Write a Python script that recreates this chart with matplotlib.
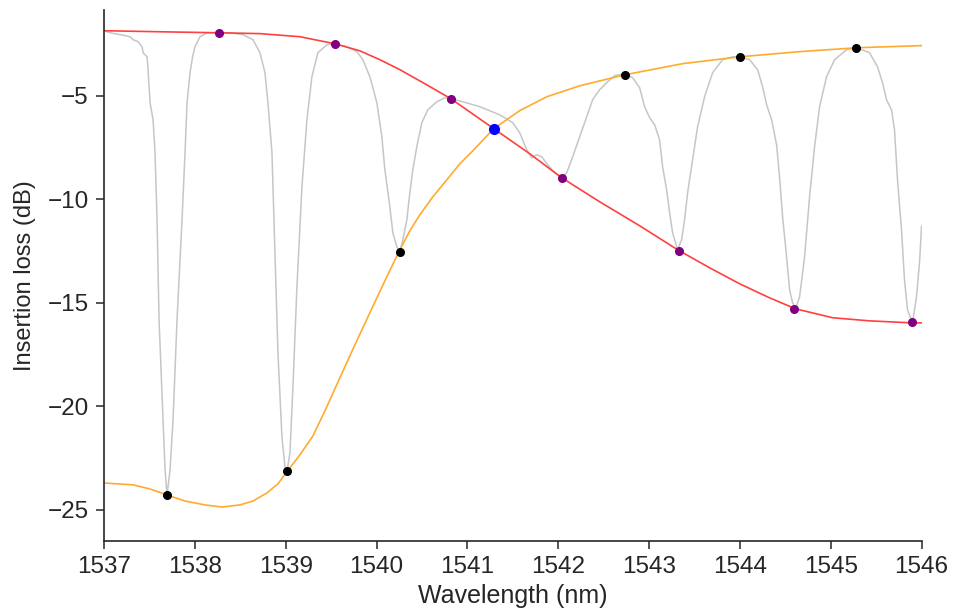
import matplotlib
matplotlib.use('Agg')
import matplotlib.pyplot as plt

# ── Data ──────────────────────────────────────────────────
# measured transmission spectrum (gray)
spec_wl = [
    1537.000, 1537.066, 1537.176, 1537.286, 1537.319, 1537.374, 1537.418, 1537.429,
    1537.473, 1537.484, 1537.506, 1537.539, 1537.561, 1537.583, 1537.605, 1537.649,
    1537.671, 1537.693, 1537.726, 1537.759, 1537.803, 1537.858, 1537.891, 1537.913,
    1537.946, 1537.975, 1538.001, 1538.056, 1538.133, 1538.265, 1538.386, 1538.529, 1538.639,
    1538.716, 1538.771, 1538.804, 1538.848, 1538.881, 1538.914, 1538.958, 1538.991,
    1539.013, 1539.046, 1539.079, 1539.123, 1539.178, 1539.233, 1539.288, 1539.354,
    1539.453, 1539.541, 1539.673, 1539.783, 1539.849, 1539.926, 1540.003, 1540.058,
    1540.091, 1540.146, 1540.179, 1540.223, 1540.256, 1540.289, 1540.333, 1540.366,
    1540.399, 1540.443, 1540.498, 1540.564, 1540.663, 1540.751, 1540.817, 1540.949,
    1541.136, 1541.356, 1541.499, 1541.576, 1541.653, 1541.708, 1541.763, 1541.818,
    1541.884, 1541.961, 1542.038, 1542.093, 1542.159, 1542.236, 1542.313, 1542.379,
    1542.456, 1542.533, 1542.621, 1542.731, 1542.819, 1542.896, 1542.951, 1543.006,
    1543.061, 1543.116, 1543.149, 1543.193, 1543.226, 1543.259, 1543.314, 1543.358,
    1543.391, 1543.424, 1543.479, 1543.534, 1543.611, 1543.699, 1543.809, 1543.919,
    1543.997, 1544.107, 1544.195, 1544.250, 1544.294, 1544.349, 1544.404, 1544.437,
    1544.470, 1544.514, 1544.547, 1544.580, 1544.613, 1544.657, 1544.712, 1544.767,
    1544.822, 1544.877, 1544.954, 1545.042, 1545.174, 1545.284, 1545.427, 1545.515,
    1545.570, 1545.614, 1545.669, 1545.702, 1545.735, 1545.779, 1545.812, 1545.845,
    1545.900, 1545.944, 1545.977, 1546.000,
]
spec_il = [
    -1.86, -1.96, -2.05, -2.15, -2.29, -2.39, -2.63, -2.92,
    -3.12, -3.74, -5.34, -6.16, -7.75, -10.99, -15.82, -20.65,
    -23.07, -24.28, -23.07, -20.65, -15.82, -10.99, -7.75, -5.34,
    -3.89, -3.10, -2.63, -2.15, -1.96, -1.96, -1.96, -2.05, -2.29,
    -2.92, -3.89, -5.34, -7.75, -12.58, -17.42, -21.47, -22.92,
    -23.16, -22.25, -19.06, -14.23, -9.40, -6.16, -4.08, -2.92,
    -2.54, -2.49, -2.63, -2.87, -3.26, -4.08, -5.34, -6.98,
    -8.57, -10.36, -11.62, -12.29, -12.54, -11.96, -10.99, -9.69,
    -8.57, -7.46, -6.30, -5.68, -5.29, -5.10, -5.14, -5.29,
    -5.53, -5.92, -6.30, -6.79, -7.61, -8.00, -7.85, -7.95,
    -8.33, -8.72, -8.96, -8.72, -7.95, -6.98, -6.01, -5.19,
    -4.71, -4.37, -4.03, -3.94, -4.13, -4.61, -5.53, -6.06,
    -6.40, -7.13, -8.43, -9.54, -10.65, -11.62, -12.44, -11.96,
    -10.99, -9.69, -8.09, -6.50, -5.05, -3.89, -3.26, -3.12,
    -3.12, -3.26, -3.74, -4.57, -5.43, -6.16, -7.37, -8.96,
    -10.85, -12.78, -14.37, -15.00, -15.29, -14.71, -12.78, -9.88,
    -7.46, -5.53, -4.08, -3.26, -2.78, -2.68, -2.92, -3.60,
    -4.37, -5.19, -5.68, -6.64, -9.06, -11.47, -13.89, -15.34,
    -15.97, -14.71, -13.07, -11.30,
]

# upper envelope (red) falling through the purple points
red_wl = [1537.000, 1537.616, 1538.265, 1538.716, 1539.156, 1539.541, 1539.816, 1540.036,
          1540.256, 1540.531, 1540.817, 1541.290, 1541.686, 1542.038, 1542.456, 1542.897,
          1543.315, 1543.667, 1543.997, 1544.327, 1544.613, 1545.020, 1545.427, 1545.900,
          1546.000]
red_il = [-1.86, -1.91, -1.96, -2.00, -2.15, -2.49, -2.83, -3.26,
          -3.74, -4.42, -5.14, -6.59, -7.80, -8.96, -10.12, -11.28,
          -12.44, -13.31, -14.08, -14.76, -15.29, -15.72, -15.87, -15.97,
          -15.97]

# lower envelope (orange) rising through the black points
orange_wl = [1537.000, 1537.319, 1537.506, 1537.693, 1537.891, 1538.111, 1538.298, 1538.496,
             1538.639, 1538.793, 1538.914, 1539.013,
             1539.156, 1539.299, 1539.431, 1539.596, 1539.761, 1539.926, 1540.091, 1540.245,
             1540.366, 1540.476, 1540.619, 1540.773, 1540.916, 1541.059, 1541.290, 1541.576,
             1541.873, 1542.236, 1542.731, 1543.369, 1543.997, 1544.657, 1545.295, 1546.000]
orange_il = [-23.70, -23.79, -23.99, -24.28, -24.57, -24.76, -24.86, -24.76,
             -24.57, -24.18, -23.74, -23.16,
             -22.34, -21.43, -20.22, -18.62, -17.03, -15.48, -13.94, -12.54,
             -11.52, -10.75, -9.88, -9.06, -8.29, -7.66, -6.59, -5.72,
             -5.05, -4.52, -3.99, -3.45, -3.12, -2.87, -2.68, -2.58]

purple_wl = [1538.27, 1539.54, 1540.82, 1542.04, 1543.33, 1544.60, 1545.89]
purple_il = [-1.96, -2.49, -5.14, -8.99, -12.49, -15.29, -15.92]

black_wl = [1537.69, 1539.01, 1540.26, 1542.73, 1544.00, 1545.28]
black_il = [-24.28, -23.12, -12.54, -3.99, -3.12, -2.68]

cross_wl = [1541.29]
cross_il = [-6.59]

xticks = [1537, 1538, 1539, 1540, 1541, 1542, 1543, 1544, 1545, 1546]
yticks = [-25, -20, -15, -10, -5]

# ── Style ─────────────────────────────────────────────────
plt.rcParams['font.family'] = ['Liberation Sans', 'DejaVu Sans']
for key in ['axes.edgecolor', 'xtick.color', 'ytick.color', 'text.color', 'axes.labelcolor']:
    plt.rcParams[key] = '#262626'

fig = plt.figure(figsize=(9.55, 6.13), dpi=100)
ax = fig.add_axes([0.109, 0.1175, 0.856, 0.8665])

ax.plot(spec_wl, spec_il, color='#c6c6c6', lw=1.1, zorder=1)
ax.plot(red_wl, red_il, color='#ff4040', lw=1.2, zorder=2)
ax.plot(orange_wl, orange_il, color='#ffab2e', lw=1.2, zorder=2)
ax.plot(purple_wl, purple_il, 'o', color='purple', ms=5.5, zorder=3)
ax.plot(black_wl, black_il, 'o', color='black', ms=5.5, zorder=3)
ax.plot(cross_wl, cross_il, 'o', color='blue', ms=7, zorder=4)

ax.set_xlim(1537, 1546)
ax.set_ylim(-26.5, -0.85)
ax.set_xticks(xticks)
ax.set_yticks(yticks)
ax.tick_params(labelsize=17.5, length=6, width=1.1, direction='out', pad=5)
ax.set_xlabel('Wavelength (nm)', fontsize=18, labelpad=4)
ax.set_ylabel('Insertion loss (dB)', fontsize=17, labelpad=8)

for side in ['top', 'right']:
    ax.spines[side].set_visible(False)
for side in ['left', 'bottom']:
    ax.spines[side].set_linewidth(1.2)

fig.savefig('out.png', dpi=100)
